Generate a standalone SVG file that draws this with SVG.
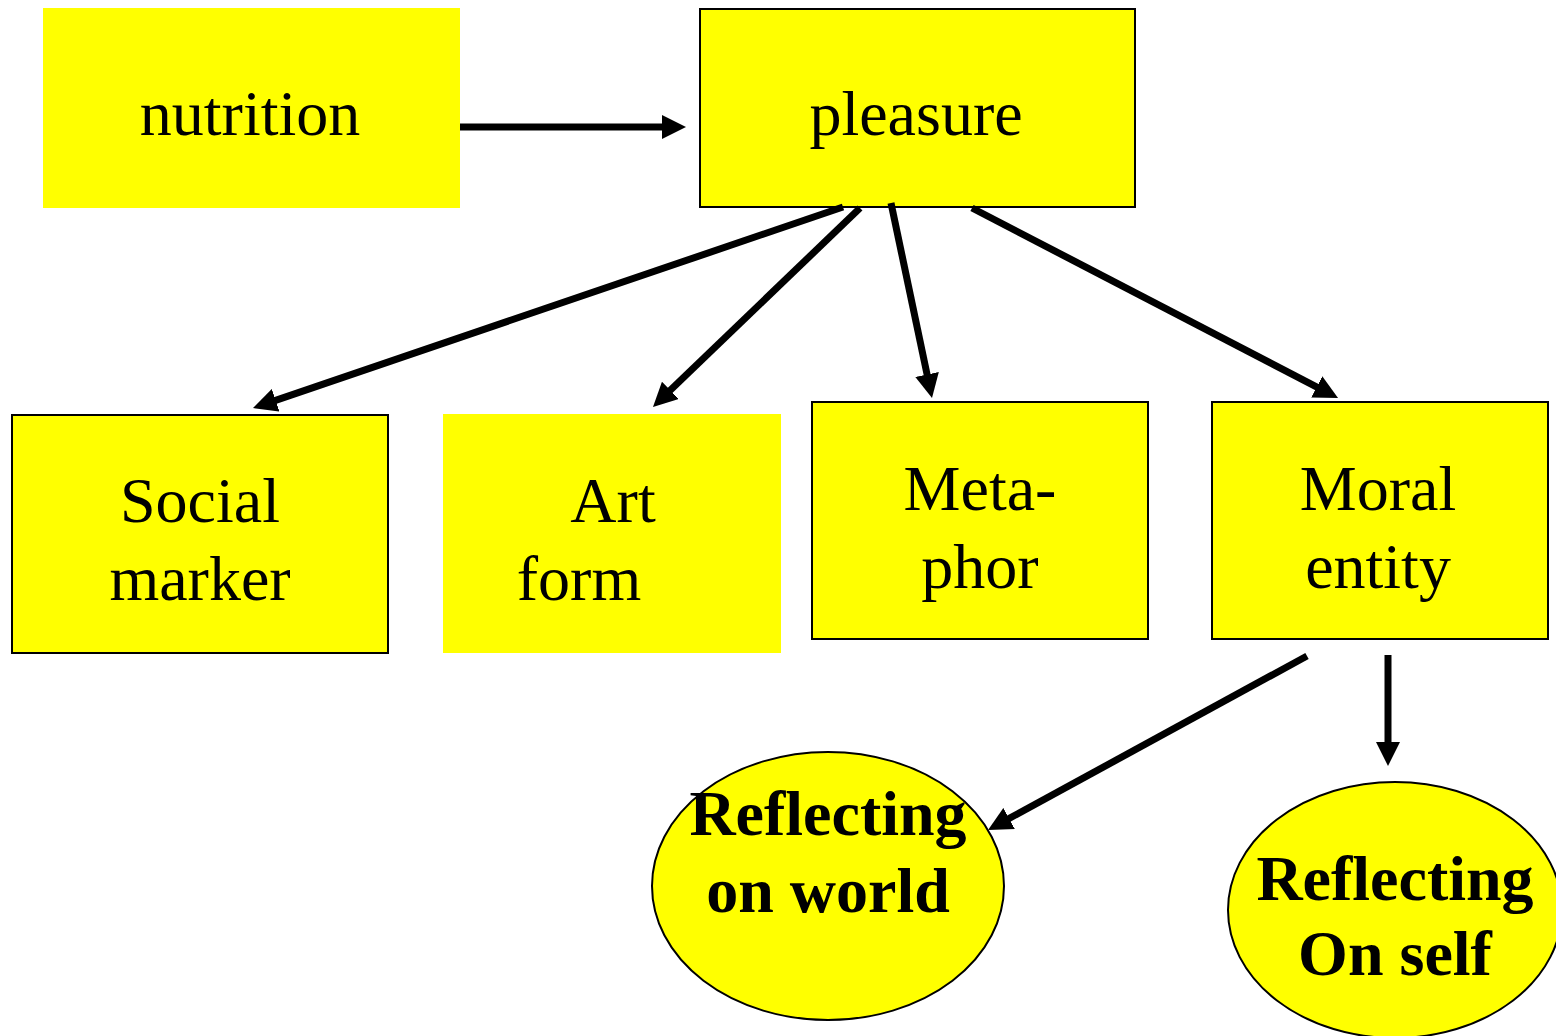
<svg xmlns="http://www.w3.org/2000/svg" width="1556" height="1036" viewBox="0 0 1556 1036">
<style>
.box{fill:#FFFF00;stroke:#000;stroke-width:2}
.boxn{fill:#FFFF00;stroke:none}
.t{font-family:"Liberation Serif","Times New Roman",serif;font-size:64px;fill:#000;text-anchor:middle}
.b{font-weight:bold}
.c{fill:none;stroke:#000;stroke-width:7}
</style>
<defs>
<marker id="ah" markerUnits="userSpaceOnUse" viewBox="0 0 24 24" markerWidth="24" markerHeight="24" refX="4" refY="12" orient="auto">
<path d="M0,0 L24,12 L0,24 z" fill="#000"/>
</marker>
</defs>
<rect width="1556" height="1036" fill="#fff"/>
<g id="nutrition"><rect class="boxn" x="43" y="8" width="417" height="200"/><text class="t" x="250" y="135">nutrition</text></g>
<g id="pleasure"><rect class="box" x="700" y="9" width="435" height="198"/><text class="t" x="916" y="135">pleasure</text></g>
<g id="social"><rect class="box" x="12" y="415" width="376" height="238"/><text class="t" x="200" y="522">Social</text><text class="t" x="200" y="600">marker</text></g>
<g id="art"><rect class="boxn" x="443" y="414" width="338" height="239"/><text class="t" x="613" y="522">Art</text><text class="t" x="579" y="600">form</text></g>
<g id="metaphor"><rect class="box" x="812" y="402" width="336" height="237"/><text class="t" x="980" y="510">Meta-</text><text class="t" x="980" y="588">phor</text></g>
<g id="moral"><rect class="box" x="1212" y="402" width="336" height="237"/><text class="t" x="1378" y="510">Moral</text><text class="t" x="1378" y="588">entity</text></g>
<g id="world"><ellipse class="box" cx="828" cy="886" rx="176" ry="134"/><text class="t b" x="828" y="835">Reflecting</text><text class="t b" x="828" y="912">on world</text></g>
<g id="self"><ellipse class="box" cx="1395" cy="910" rx="167" ry="128"/><text class="t b" x="1395" y="900">Reflecting</text><text class="t b" x="1395" y="975">On self</text></g>
<g id="connectors">
<line class="c" x1="460" y1="127" x2="666" y2="127" marker-end="url(#ah)"/>
<line class="c" x1="843" y1="207" x2="271.9" y2="401.6" marker-end="url(#ah)"/>
<line class="c" x1="860" y1="208" x2="667.4" y2="393.1" marker-end="url(#ah)"/>
<line class="c" x1="891" y1="203" x2="927.9" y2="378.4" marker-end="url(#ah)"/>
<line class="c" x1="972" y1="208" x2="1320.3" y2="388.8" marker-end="url(#ah)"/>
<line class="c" x1="1307" y1="656" x2="1005.6" y2="820.4" marker-end="url(#ah)"/>
<line class="c" x1="1388" y1="655" x2="1388" y2="746" marker-end="url(#ah)"/>
</g>
</svg>
